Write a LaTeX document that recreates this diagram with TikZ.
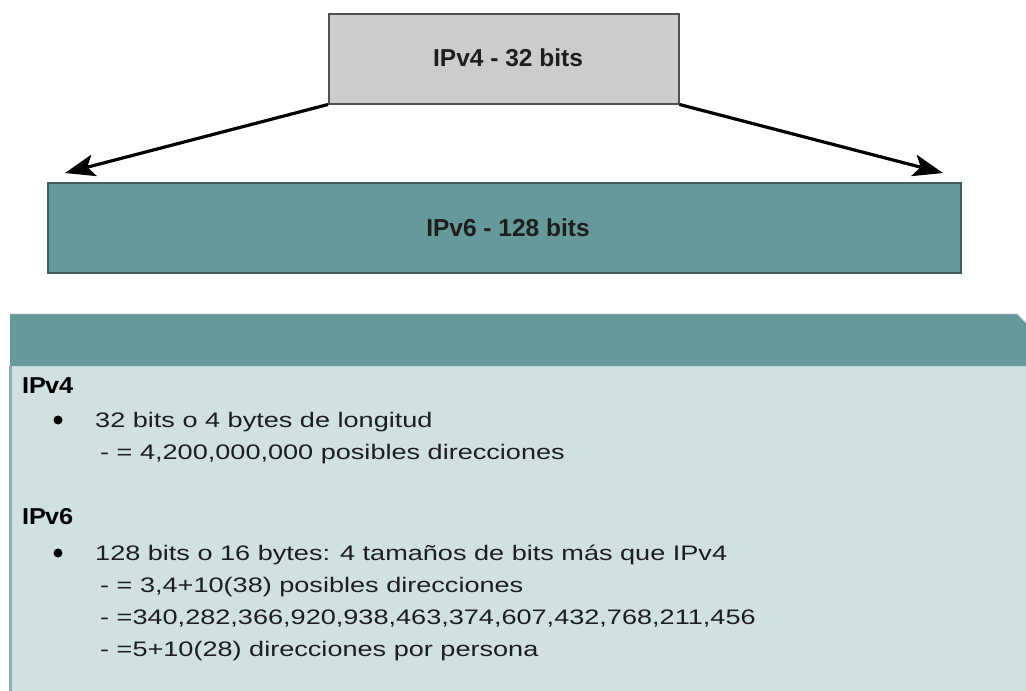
\documentclass[tikz,border=0pt]{standalone}
\usepackage{fontspec}
\setmainfont{Liberation Sans}
\newfontfamily\bodyfont[FakeStretch=1.29]{Liberation Sans}
\newfontfamily\headfont[FakeStretch=1.1]{Liberation Sans}
\usetikzlibrary{arrows.meta}
\definecolor{boxgray}{HTML}{CCCCCC}
\definecolor{boxedge}{HTML}{505050}
\definecolor{tealfill}{HTML}{669999}
\definecolor{tealedge}{HTML}{3E5F5F}
\definecolor{panelbody}{HTML}{D1E0E0}
\definecolor{panelstripe}{HTML}{8EB0B0}
\definecolor{inktext}{HTML}{1E1E1E}
\tikzset{
  sizebox/.style={draw=#1, line width=1.5pt, minimum height=90pt, inner sep=0pt, anchor=north west},
  boxtitle/.style={font=\fontsize{24.5}{28}\selectfont\bfseries, text=inktext, inner sep=0pt},
  expand/.style={line width=3.2pt, -{Stealth[length=30pt, width=22pt, inset=7pt]}},
  heading/.style={font=\headfont\fontsize{23}{26}\selectfont\bfseries, text=black, anchor=base west, inner sep=0pt},
  bodyline/.style={font=\bodyfont\fontsize{21}{24}\selectfont, text=inktext, anchor=base west, inner sep=0pt},
  dot/.style={circle, fill=black, inner sep=0pt, minimum size=9pt}
}
\begin{document}
\begin{tikzpicture}[x=1pt, y=-1pt]
\useasboundingbox (0,0) rectangle (1026,691);

% address sizes
\node[sizebox=boxedge, fill=boxgray, minimum width=350pt] (v4box) at (328,13) {};
\node[boxtitle] (v4title) at (508,58) {IPv4 - 32 bits};
\node[sizebox=tealedge, fill=tealfill, minimum width=913pt] (v6box) at (47,182) {};
\node[boxtitle] (v6title) at (508,228) {IPv6 - 128 bits};

% widening arrows
\coordinate (tipL) at (65,173);
\coordinate (tipR) at (943,173);
\draw[expand] (v4box.south west) -- (tipL);
\draw[expand] (v4box.south east) -- (tipR);

% notes panel
\fill[panelbody] (10,313) -- (1017,313) -- (1026,322) -- (1026,691) -- (10,691) -- cycle;
\fill[tealfill] (10,313) -- (1017,313) -- (1026,322) -- (1026,366) -- (10,366) -- cycle;
\draw[white!85!tealfill, line width=1pt] (10,313.5) -- (1017,313.5) -- (1026,322.5);
\fill[panelstripe] (9,366) rectangle (12,691);

\node[heading] (h4) at (22,393) {IP\kern-1pt v4};
\node[dot] (b4) at (58,420) {};
\node[bodyline] (l4a) at (95,427) {32 bits o 4 bytes de longitud};
\node[bodyline] (l4b) at (100,459) {- = 4,200,000,000 posibles direcciones};

\node[heading] (h6) at (22,524) {IP\kern-1pt v6};
\node[dot] (b6) at (58,553) {};
\node[bodyline] (l6a) at (95,560) {128 bits o 16 bytes: 4 tamaños de bits más que IPv4};
\node[bodyline] (l6b) at (100,592) {- = 3,4+10(38) posibles direcciones};
\node[bodyline] (l6c) at (100,624) {- =340,282,366,920,938,463,374,607,432,768,211,456};
\node[bodyline] (l6d) at (100,656) {- =5+10(28) direcciones por persona};
\end{tikzpicture}
\end{document}
